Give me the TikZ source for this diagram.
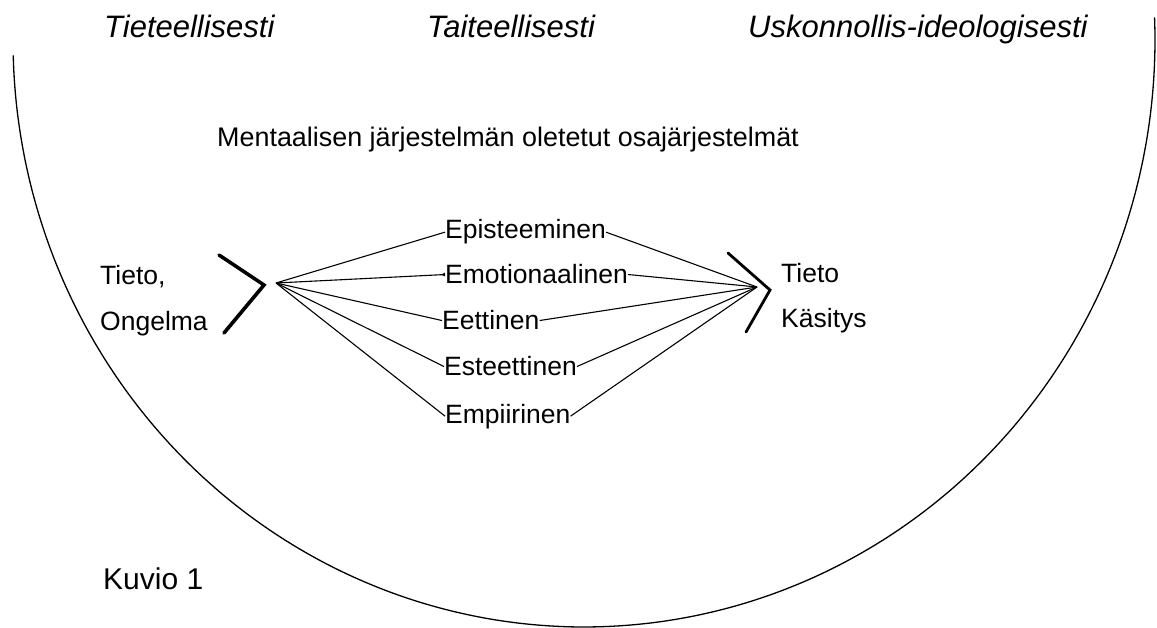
\documentclass[tikz,border=0pt]{standalone}
\usepackage{fontspec}
\setmainfont{Liberation Sans}
\usetikzlibrary{arrows.meta}
\begin{document}
\begin{tikzpicture}[x=1pt,y=-1pt,
  lab/.style={inner sep=0pt,anchor=base west,font=\fontsize{26.5}{30}\selectfont},
  head/.style={inner sep=0pt,anchor=base west,font=\fontsize{31}{35}\selectfont\itshape},
  fan/.style={line width=1.1pt},
  brace/.style={line width=3.6pt,line cap=round,line join=miter},
  outline/.style={line width=1.3pt}]
\useasboundingbox (0,0) rectangle (1157,628);
% big half-ellipse
\draw[outline] plot[domain=-2.2:178.5,samples=160,smooth] ({584+571*cos(\x)},{40+587*sin(\x)});
% headings
\node[head] (h1) at (104,38) {Tieteellisesti};
\node[head] (h2) at (427,38) {Taiteellisesti};
\node[head] (h3) at (748,38) {Uskonnollis-ideologisesti};
\node[lab,font=\fontsize{26.9}{30}\selectfont] (title) at (217,147) {Mentaalisen järjestelmän oletetut osajärjestelmät};
% left and right texts
\node[lab] (tieto1) at (100,285) {Tieto,};
\node[lab] (ongelma) at (100,331) {Ongelma};
\node[lab] (tieto2) at (781,283) {Tieto};
\node[lab] (kasitys) at (781,328) {Käsitys};
% middle labels
\node[lab] (epi) at (445,239) {Episteeminen};
\node[lab] (emo) at (445,284) {Emotionaalinen};
\node[lab] (eet) at (442,330) {Eettinen};
\node[lab] (est) at (444,376) {Esteettinen};
\node[lab] (emp) at (445,423) {Empiirinen};
\node[lab,font=\fontsize{30}{34}\selectfont] (kuvio) at (103,589) {Kuvio 1};
% brackets
\draw[brace] (219,255) -- (264,285) -- (224,333);
\draw[brace,line width=2.8pt] (728,253) -- (770,290) -- (746,332);
% fan points
\coordinate (L) at (276,283);
\coordinate (R) at (757,287);
\draw[fan] (L) -- (epi.west);
\draw[fan,-{Latex[reversed,length=5pt,width=4pt]}] (L) -- (emo.west);
\draw[fan] (L) -- (eet.west);
\draw[fan] (L) -- (est.west);
\draw[fan] (L) -- (emp.west);
\draw[fan] (epi.east) -- (R);
\draw[fan] (emo.east) -- (R);
\draw[fan] (eet.east) -- (R);
\draw[fan] (est.east) -- (R);
\draw[fan] (emp.east) -- (R);
\end{tikzpicture}
\end{document}
